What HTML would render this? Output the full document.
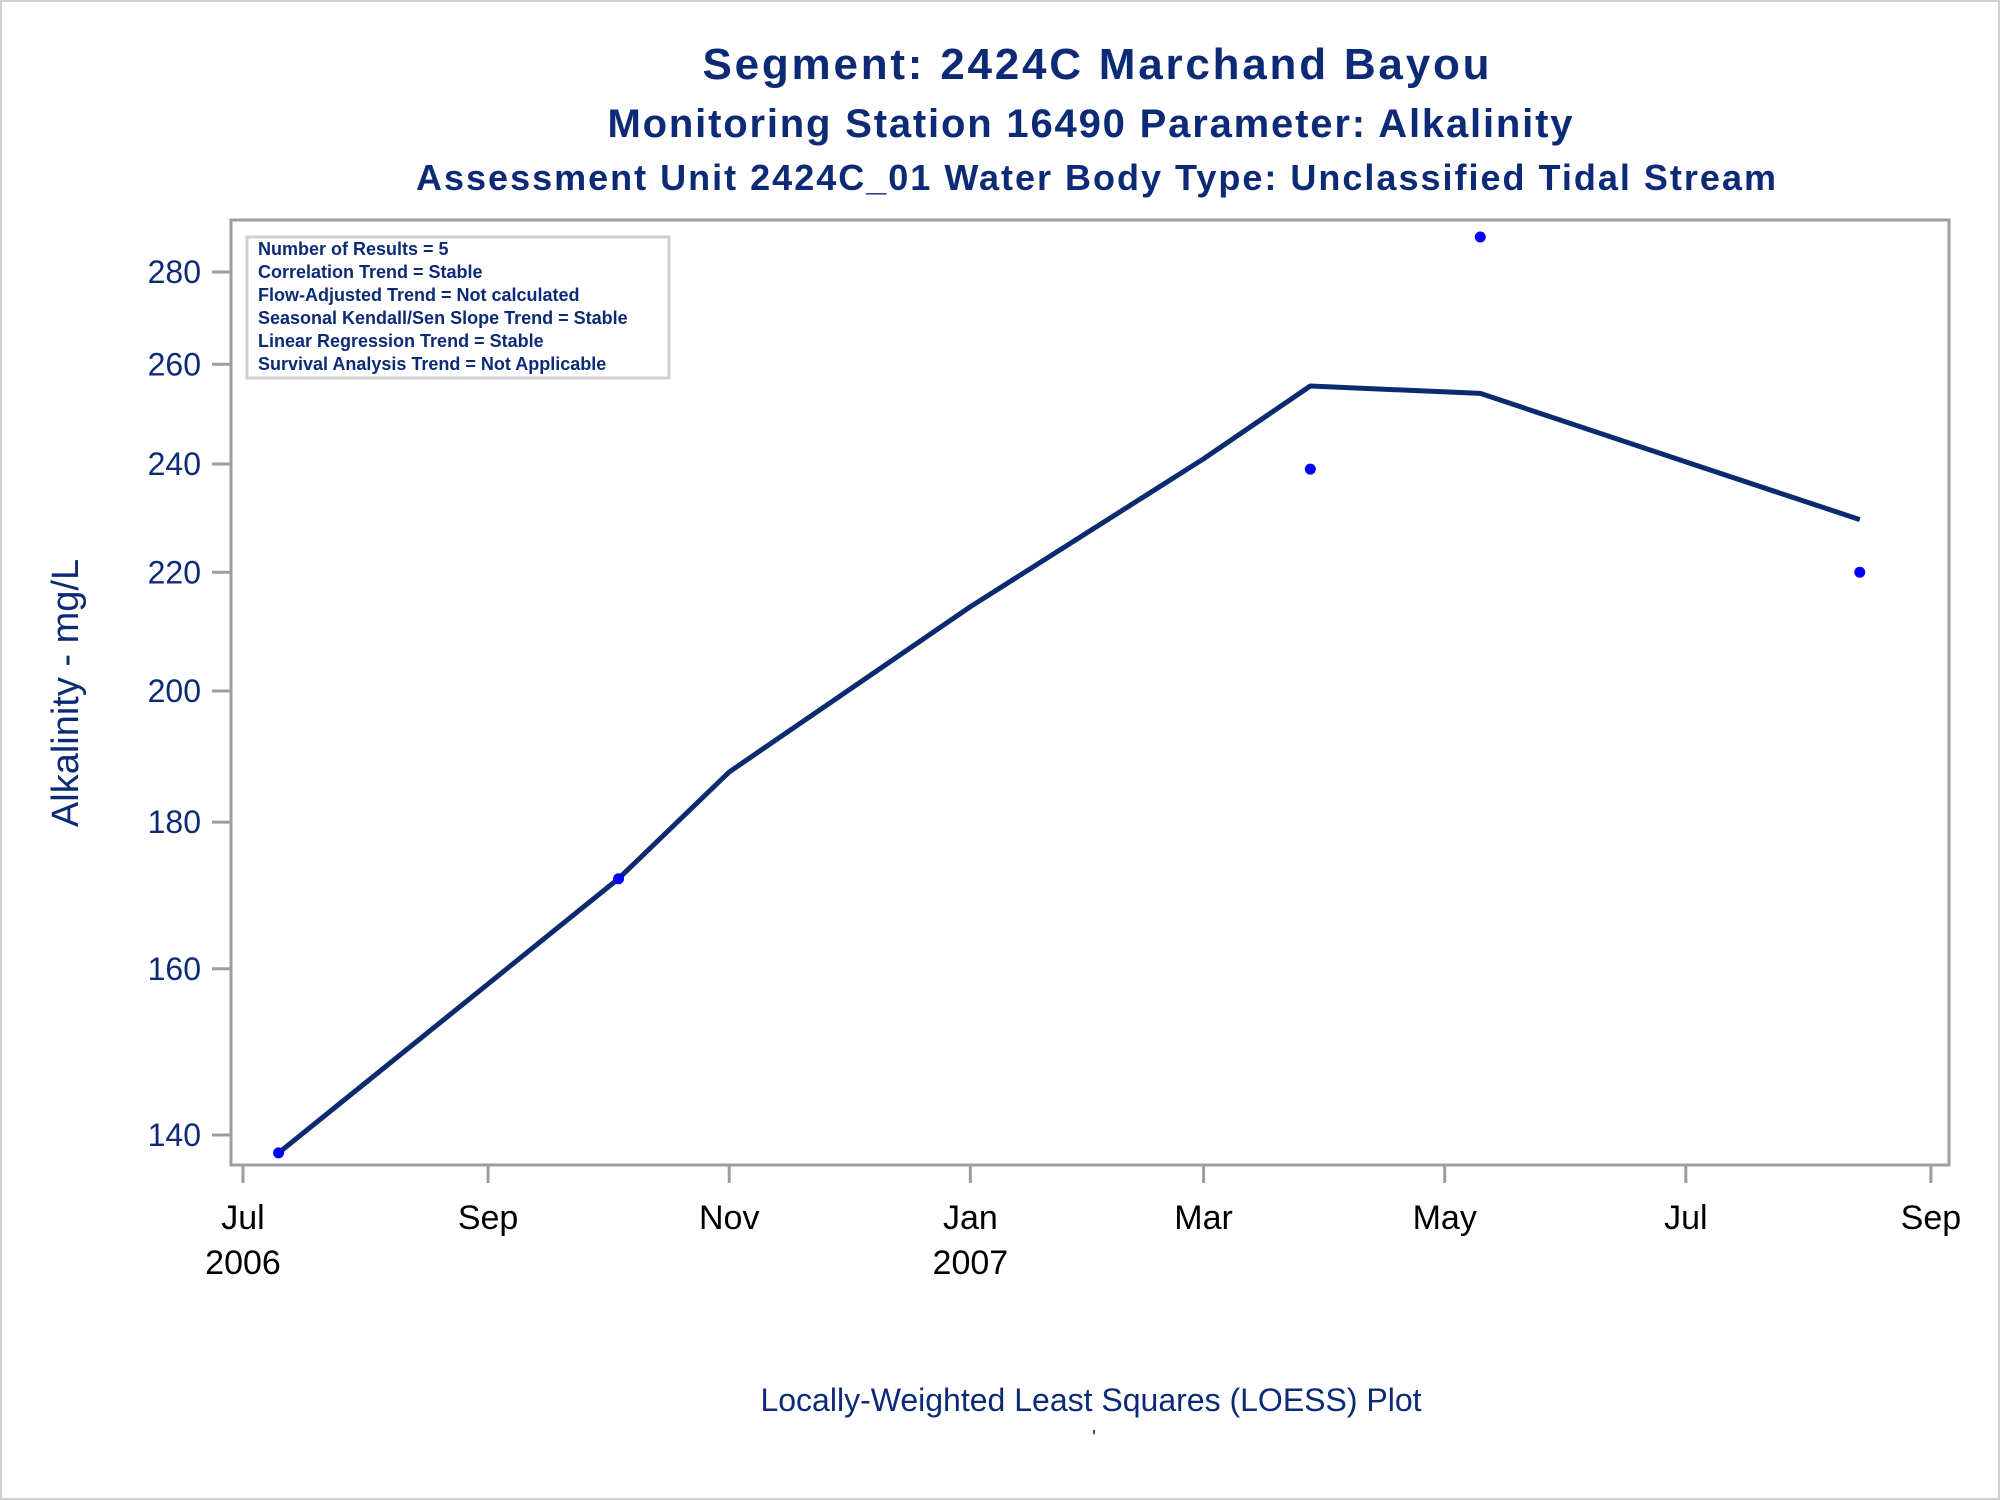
<!DOCTYPE html>
<html><head><meta charset="utf-8"><style>
html,body{margin:0;padding:0;background:#fff}
svg{display:block;font-family:"Liberation Sans",Arial,sans-serif}
</style></head><body>
<svg id="chart" width="2000" height="1500" viewBox="0 0 2000 1500">
<rect x="1" y="1" width="1998" height="1498" fill="#fff" stroke="#d0d0d0" stroke-width="2"/>
<text x="1096" y="79" text-anchor="middle" font-size="44" font-weight="bold" fill="#0c2a75" textLength="787">Segment: 2424C  Marchand Bayou</text>
<text x="1090" y="137" text-anchor="middle" font-size="40" font-weight="bold" fill="#0c2a75" textLength="965">Monitoring Station 16490 Parameter: Alkalinity</text>
<text x="1096" y="190" text-anchor="middle" font-size="36" font-weight="bold" fill="#0c2a75" textLength="1360">Assessment Unit 2424C_01   Water Body Type: Unclassified Tidal Stream</text>
<rect x="231" y="220" width="1718" height="945" fill="none" stroke="#9a9ea3" stroke-width="3"/>
<g>
<rect x="247" y="237" width="422" height="141" fill="#fff" stroke="#cfcfcf" stroke-width="3"/>
<g font-size="18" font-weight="bold" fill="#0c2a75">
<text x="258" y="255">Number of Results = 5</text>
<text x="258" y="278">Correlation Trend = Stable</text>
<text x="258" y="301">Flow-Adjusted Trend = Not calculated</text>
<text x="258" y="324">Seasonal Kendall/Sen Slope Trend = Stable</text>
<text x="258" y="347">Linear Regression Trend = Stable</text>
<text x="258" y="370">Survival Analysis Trend = Not Applicable</text>
</g></g>
<g id="yaxis"></g>
<g id="xaxis"></g>
<g id="series"></g>
<text transform="translate(78,693) rotate(-90)" text-anchor="middle" font-size="38" fill="#0c2a75">Alkalinity - mg/L</text>
<text x="1091" y="1411" text-anchor="middle" font-size="32" fill="#0c2a75">Locally-Weighted Least Squares (LOESS) Plot</text>
<text x="1094" y="1444" text-anchor="middle" font-size="20" fill="#0c2a75">'</text>
</svg>
<script>
const yTicks = [140, 160, 180, 200, 220, 240, 260, 280];
const xTickDates = ["2006-07-01","2006-09-01","2006-11-01","2007-01-01","2007-03-01","2007-05-01","2007-07-01","2007-09-01"];
const xTickLabels = ["Jul","Sep","Nov","Jan","Mar","May","Jul","Sep"];
const xTickYears = ["2006","","","2007","","","",""];
const pointDates = ["2006-07-10","2006-10-04","2007-03-28","2007-05-10","2007-08-14"];
const pointValues = [138, 172, 239, 288, 220];
const loessDates = ["2006-07-10","2006-10-04","2006-11-01","2007-01-01","2007-03-01","2007-03-28","2007-05-10","2007-07-01","2007-08-14"];
const loessValues = [138, 172, 187.4, 214, 241, 255.5, 254, 240.4, 229.5];

const NS = "http://www.w3.org/2000/svg";
const day0 = Date.UTC(2006,6,1);
function xs(d){const t=Date.parse(d+"T00:00:00Z");return 243+(t-day0)/86400000*3.953;}
function ys(v){return 1135-1245*Math.log(v/140);}
function mk(tag,attrs,parent){const e=document.createElementNS(NS,tag);for(const k in attrs)e.setAttribute(k,attrs[k]);parent.appendChild(e);return e;}

const ya=document.getElementById("yaxis");
yTicks.forEach(v=>{
  const y=ys(v);
  const l=mk("line",{x1:212,x2:231,y1:y,y2:y,stroke:"#9a9ea3","stroke-width":3},ya);
  
  
  const t=mk("text",{x:201,y:y+11,"text-anchor":"end","font-size":32,fill:"#0c2a75"},ya);
  t.textContent=v;
  
  
});
const xa=document.getElementById("xaxis");
xTickDates.forEach((d,i)=>{
  const x=xs(d);
  const l=mk("line",{x1:x,x2:x,y1:1165,y2:1183,stroke:"#9a9ea3","stroke-width":3},xa);
  
  
  const t=mk("text",{x:x,y:1229,"text-anchor":"middle","font-size":34,fill:"#000"},xa);
  t.textContent=xTickLabels[i];
  
  
  if(xTickYears[i]){
    const t2=mk("text",{x:x,y:1274,"text-anchor":"middle","font-size":34,fill:"#000"},xa);
    t2.textContent=xTickYears[i];
    
    
  }
});
const sg=document.getElementById("series");
const pts=loessDates.map((d,i)=>xs(d).toFixed(1)+","+ys(loessValues[i]).toFixed(1)).join(" ");
const pl=mk("polyline",{points:pts,fill:"none",stroke:"#0b2a6f","stroke-width":5,"stroke-linejoin":"round"},sg);


pointDates.forEach((d,i)=>{
  const c=mk("circle",{cx:xs(d),cy:ys(pointValues[i]),r:5.5,fill:"#0000ff"},sg);
  
  
});
</script>
</body></html>
